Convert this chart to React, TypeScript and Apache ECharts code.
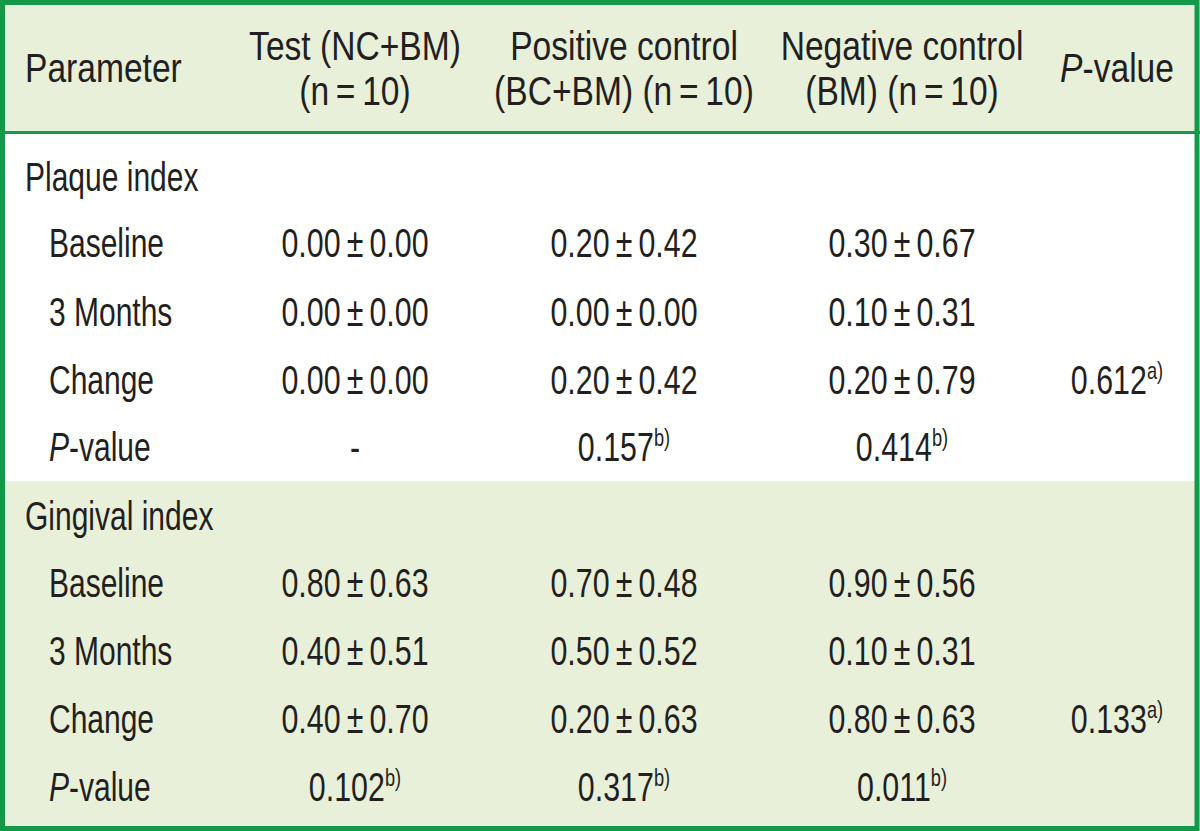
import React, { useEffect, useRef } from "react";
import * as echarts from "echarts";

const T = "\u2009"; // thin space
const headers = [
  ["Parameter"],
  ["Test (NC+BM)", `(n${T}=${T}10)`],
  ["Positive control", `(BC+BM) (n${T}=${T}10)`],
  ["Negative control", `(BM) (n${T}=${T}10)`],
  ["*P*-value"],
];
const groups = ["Plaque index", "Gingival index"];
const rowLabels = ["Baseline", "3 Months", "Change", "*P*-value"];
const testValues = [
  ["0.00 ± 0.00", "0.00 ± 0.00", "0.00 ± 0.00", "-"],
  ["0.80 ± 0.63", "0.40 ± 0.51", "0.40 ± 0.70", "0.102^b)"],
];
const positiveValues = [
  ["0.20 ± 0.42", "0.00 ± 0.00", "0.20 ± 0.42", "0.157^b)"],
  ["0.70 ± 0.48", "0.50 ± 0.52", "0.20 ± 0.63", "0.317^b)"],
];
const negativeValues = [
  ["0.30 ± 0.67", "0.10 ± 0.31", "0.20 ± 0.79", "0.414^b)"],
  ["0.90 ± 0.56", "0.10 ± 0.31", "0.80 ± 0.63", "0.011^b)"],
];
const groupPValues = [
  ["", "", "0.612^a)", ""],
  ["", "", "0.133^a)", ""],
];

const GREEN = "#14994a";
const BG = "#e8f0da";
const INK = "#231f20";
const FONT = "'Liberation Sans', Arial, sans-serif";
const FS = 40;
const SX_HEAD = 0.84;
const SX_LABEL = 0.75;
const SX_VALUE = 0.76;

function toRich(s: string): string {
  let out = "";
  let t = s.replace(/ ± /g, `${T}±${T}`);
  let sup = "";
  const ci = t.indexOf("^");
  if (ci >= 0) {
    sup = t.slice(ci + 1);
    t = t.slice(0, ci);
  }
  const parts = t.split("*");
  parts.forEach((p, i) => {
    if (!p) return;
    out += i % 2 === 1 ? `{i|${p}}` : `{n|${p}}`;
  });
  if (sup) out += `{s|${sup}}`;
  return out;
}

const rich = {
  n: { fontSize: FS, fontFamily: FONT, fill: INK, lineHeight: 46 },
  i: { fontSize: FS, fontFamily: FONT, fill: INK, fontStyle: "italic", lineHeight: 46 },
  s: { fontSize: 24, fontFamily: FONT, fill: INK, verticalAlign: "top", lineHeight: 46, padding: [2, 0, 0, 0] },
};

function txt(s: string, x: number, y: number, align: string, sx: number) {
  return {
    type: "text",
    x,
    y,
    scaleX: sx,
    style: {
      text: toRich(s),
      rich,
      align,
      verticalAlign: "middle",
      fill: INK,
    },
  };
}

export default function App() {
  const ref = useRef<HTMLDivElement>(null);
  useEffect(() => {
    document.body.style.margin = "0";
    const chart = echarts.init(ref.current!, null, { renderer: "svg" });
    const els: any[] = [];
    els.push({ type: "rect", shape: { x: 0, y: 0, width: 1200, height: 132 }, style: { fill: BG } });
    els.push({ type: "rect", shape: { x: 0, y: 481, width: 1200, height: 350 }, style: { fill: BG } });
    els.push({ type: "line", shape: { x1: 0, y1: 132.5, x2: 1200, y2: 132.5 }, style: { stroke: GREEN, lineWidth: 3 } });
    els.push({ type: "rect", shape: { x: 2.5, y: 2.5, width: 1194.5, height: 826 }, style: { fill: "none", stroke: GREEN, lineWidth: 5 } });

    const colX = [25, 355, 624, 902, 1117];
    headers.forEach((h, c) => {
      const align = c === 0 ? "left" : "center";
      if (h.length === 1) {
        els.push(txt(h[0], colX[c], 68, align, SX_HEAD));
      } else {
        els.push(txt(h[0], colX[c], 46, align, SX_HEAD));
        els.push(txt(h[1], colX[c], 91, align, SX_HEAD));
      }
    });
    const groupY = [177, 516];
    const rowY = [
      [243, 312, 380, 447],
      [583, 651, 719, 787],
    ];
    groups.forEach((g, gi) => {
      els.push(txt(g, 25, groupY[gi], "left", SX_LABEL));
      rowLabels.forEach((r, ri) => {
        const y = rowY[gi][ri];
        els.push(txt(r, 49, y, "left", SX_LABEL));
        els.push(txt(testValues[gi][ri], colX[1], y, "center", SX_VALUE));
        els.push(txt(positiveValues[gi][ri], colX[2], y, "center", SX_VALUE));
        els.push(txt(negativeValues[gi][ri], colX[3], y, "center", SX_VALUE));
        if (groupPValues[gi][ri]) els.push(txt(groupPValues[gi][ri], colX[4], y, "center", SX_VALUE));
      });
    });

    chart.setOption({
      animation: false,
      backgroundColor: "#ffffff",
      graphic: { elements: els },
    });
    return () => chart.dispose();
  }, []);
  return <div ref={ref} style={{ width: 1200, height: 831 }} />;
}
